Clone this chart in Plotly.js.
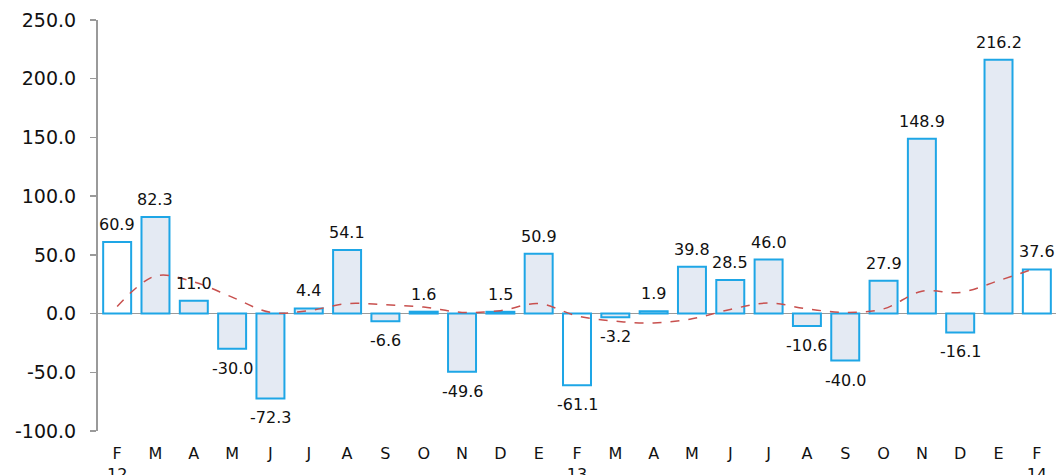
<!DOCTYPE html>
<html>
<head>
<meta charset="utf-8">
<script src="https://cdn.plot.ly/plotly-3.0.1.min.js"></script>
<style>html,body{margin:0;padding:0;background:#fff;}#chart{width:1058px;height:475px;}</style>
</head>
<body>
<div id="chart"></div>
<script>
const monthLabels = ["F<br>12","M","A","M","J","J","A","S","O","N","D","E","F<br>13","M","A","M","J","J","A","S","O","N","D","E","F<br>14"];
const values = [60.9, 82.3, 11.0, -30.0, -72.3, 4.4, 54.1, -6.6, 1.6, -49.6, 1.5, 50.9, -61.1, -3.2, 1.9, 39.8, 28.5, 46.0, -10.6, -40.0, 27.9, 148.9, -16.1, 216.2, 37.6];
const trend = [6, 32, 27, 14, 1, 2.5, 8.5, 7.5, 5.5, 1, 2.5, 8.5, -2, -6.5, -8, -4.5, 3.5, 9, 4, 1, 4, 19, 18, 28, 39];
const whiteIdx = [0, 12, 24];
const yTicks = [-100, -50, 0, 50, 100, 150, 200, 250];

const FONT = "DejaVu Sans, Verdana, sans-serif";
const idx = values.map((_, i) => i);
const fills = idx.map(i => whiteIdx.includes(i) ? "#ffffff" : "#e4eaf3");

const traces = [
  {
    type: "bar",
    x: idx,
    y: values,
    marker: {color: fills, line: {color: "#1ea6e6", width: 2}},
    hoverinfo: "none"
  },
  {
    type: "scatter",
    mode: "lines",
    x: idx,
    y: trend,
    line: {color: "#c8504e", width: 1.5, dash: "dash", shape: "spline", smoothing: 1},
    hoverinfo: "none"
  }
];

const annotations = values.map((v, i) => ({
  x: i,
  y: v,
  xref: "x",
  yref: "y",
  text: v.toFixed(1),
  showarrow: false,
  yanchor: v >= 0 ? "bottom" : "top",
  yshift: v >= 0 ? 6 : -8,
  font: {family: FONT, size: 16, color: "#111"}
}));

const layout = {
  width: 1058,
  height: 475,
  margin: {l: 98, r: 2, t: 20, b: 44},
  paper_bgcolor: "#fff",
  plot_bgcolor: "#fff",
  showlegend: false,
  bargap: 0.27,
  font: {family: FONT, size: 17, color: "#111"},
  annotations: annotations,
  xaxis: {
    range: [-0.5, 24.5],
    tickmode: "array",
    tickvals: idx,
    ticktext: monthLabels,
    showgrid: false,
    zeroline: false,
    showline: false,
    ticks: "outside",
    ticklen: 8,
    tickcolor: "rgba(0,0,0,0)",
    tickfont: {family: FONT, size: 16, color: "#111"},
    fixedrange: true
  },
  yaxis: {
    range: [-100, 250],
    tickmode: "array",
    tickvals: yTicks,
    ticktext: yTicks.map(v => v.toFixed(1)),
    showgrid: false,
    showline: true,
    linecolor: "#9a9a9a",
    linewidth: 2,
    ticks: "outside",
    ticklen: 6,
    tickcolor: "#9a9a9a",
    tickwidth: 1.5,
    ticklabelstandoff: 10,
    zeroline: true,
    zerolinecolor: "#9a9a9a",
    zerolinewidth: 1.5,
    tickfont: {family: FONT, size: 19, color: "#111"},
    fixedrange: true
  }
};

Plotly.newPlot("chart", traces, layout, {displayModeBar: false, staticPlot: true});
</script>
</body>
</html>
